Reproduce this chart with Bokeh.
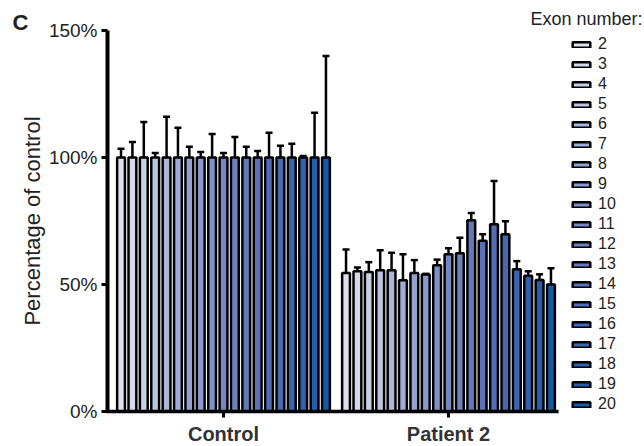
from bokeh.plotting import figure
from bokeh.models import (ColumnDataSource, Whisker, TeeHead, Legend, LegendItem,
                          Label, FixedTicker, Range1d)
from bokeh.embed import file_html
from bokeh.resources import INLINE

exons = [str(e) for e in range(2, 21)]
groups = ["Control", "Patient 2"]
control_mean = [100] * 19
control_err = [103.4, 106.1, 114.0, 101.8, 116.0, 111.7, 104.2, 102.2, 109.3, 101.8,
               108.1, 104.2, 102.6, 109.7, 104.6, 105.4, 100.6, 117.6, 140.0]
patient_mean = [54.5, 55.2, 54.9, 55.6, 55.6, 51.7, 54.5, 53.9, 57.6, 61.9,
                62.3, 75.3, 67.2, 73.7, 69.8, 56.0, 53.4, 51.8, 50.0]
patient_err = [63.8, 56.7, 58.8, 63.5, 62.5, 61.9, 59.6, 54.2, 59.8, 64.3,
               68.4, 78.1, 69.8, 90.7, 74.9, 59.2, 55.2, 54.0, 56.4]
colors = ["#dde1ef", "#d4daec", "#c8d0e6", "#bcc6e2", "#aab6da", "#9eadd6", "#93a4d1",
          "#8a9acc", "#8091c7", "#7787c2", "#6f80bd", "#6478bb", "#5a73b7", "#526db5",
          "#4769b4", "#3d66b2", "#3163b0", "#245fae", "#165aa8"]
yticks = [0, 50, 100, 150]

FONT = "Liberation Sans"
pitch = 0.0506
bar_w = 0.0347

p = figure(width=644, height=446, output_backend="svg", toolbar_location=None,
           x_range=Range1d(-0.9911, 1.8711), y_range=Range1d(-13.78, 161.81),
           min_border=0)
p.outline_line_color = None
p.xgrid.visible = False
p.ygrid.visible = False

items = []
for i, ex in enumerate(exons):
    off = (i - 9) * pitch
    src = ColumnDataSource(dict(x=[0 + off, 1 + off],
                                top=[control_mean[i], patient_mean[i]],
                                upper=[control_err[i], patient_err[i]]))
    w = Whisker(base="x", lower="top", upper="upper", source=src,
                line_width=2.5, line_color="black",
                upper_head=TeeHead(size=7, line_width=2.5, line_color="black"),
                lower_head=None, level="glyph")
    p.add_layout(w)
    r = p.vbar(x="x", top="top", width=bar_w, bottom=0, source=src,
               fill_color=colors[i], line_color="black", line_width=2.5)
    items.append(LegendItem(label=ex, renderers=[r]))

legend = Legend(items=items, location=(570, 33), glyph_width=22, glyph_height=7,
                label_standoff=6, spacing=2, label_height=18, padding=0, margin=0,
                border_line_alpha=0, background_fill_alpha=0,
                label_text_font=FONT, label_text_font_size="16px", label_text_color="#222222")
p.add_layout(legend, "center")

# axes
p.yaxis.fixed_location = -0.5156
p.yaxis.bounds = (0, 150)
p.yaxis.ticker = FixedTicker(ticks=yticks)
p.yaxis.major_label_overrides = {t: f"{t}%" for t in yticks}
p.yaxis.axis_label = "Percentage of control"
p.yaxis.axis_label_text_font = FONT
p.yaxis.axis_label_text_font_style = "normal"
p.yaxis.axis_label_text_font_size = "22px"
p.yaxis.axis_label_text_color = "#222222"
p.yaxis.axis_label_standoff = 1
p.yaxis.major_label_text_font = FONT
p.yaxis.major_label_text_font_size = "19px"
p.yaxis.major_label_text_color = "#222222"
p.yaxis.major_label_standoff = 4
p.yaxis.axis_line_width = 4
p.yaxis.major_tick_line_width = 3
p.yaxis.major_tick_out = 6
p.yaxis.major_tick_in = 0
p.yaxis.minor_tick_line_color = None

p.xaxis.fixed_location = 0
p.xaxis.bounds = (-0.52, 1.489)
p.xaxis.ticker = FixedTicker(ticks=[0, 1])
p.xaxis.major_label_overrides = {0: groups[0], 1: groups[1]}
p.xaxis.major_label_text_font = FONT
p.xaxis.major_label_text_font_style = "bold"
p.xaxis.major_label_text_font_size = "20px"
p.xaxis.major_label_text_color = "#333333"
p.xaxis.major_label_standoff = 6
p.xaxis.axis_line_width = 3.5
p.xaxis.major_tick_line_width = 3
p.xaxis.major_tick_out = 6
p.xaxis.major_tick_in = 0
p.xaxis.minor_tick_line_color = None

p.add_layout(Label(x=-0.9378, y=153.2, text="C", text_font=FONT, text_font_style="bold",
                   text_font_size="22px", text_color="#222222", text_baseline="middle"))
p.add_layout(Label(x=1.3644, y=154.7, text="Exon number:", text_font=FONT,
                   text_font_size="18px", text_color="#222222", text_baseline="middle"))

open("out.html", "w").write(file_html(p, INLINE))
